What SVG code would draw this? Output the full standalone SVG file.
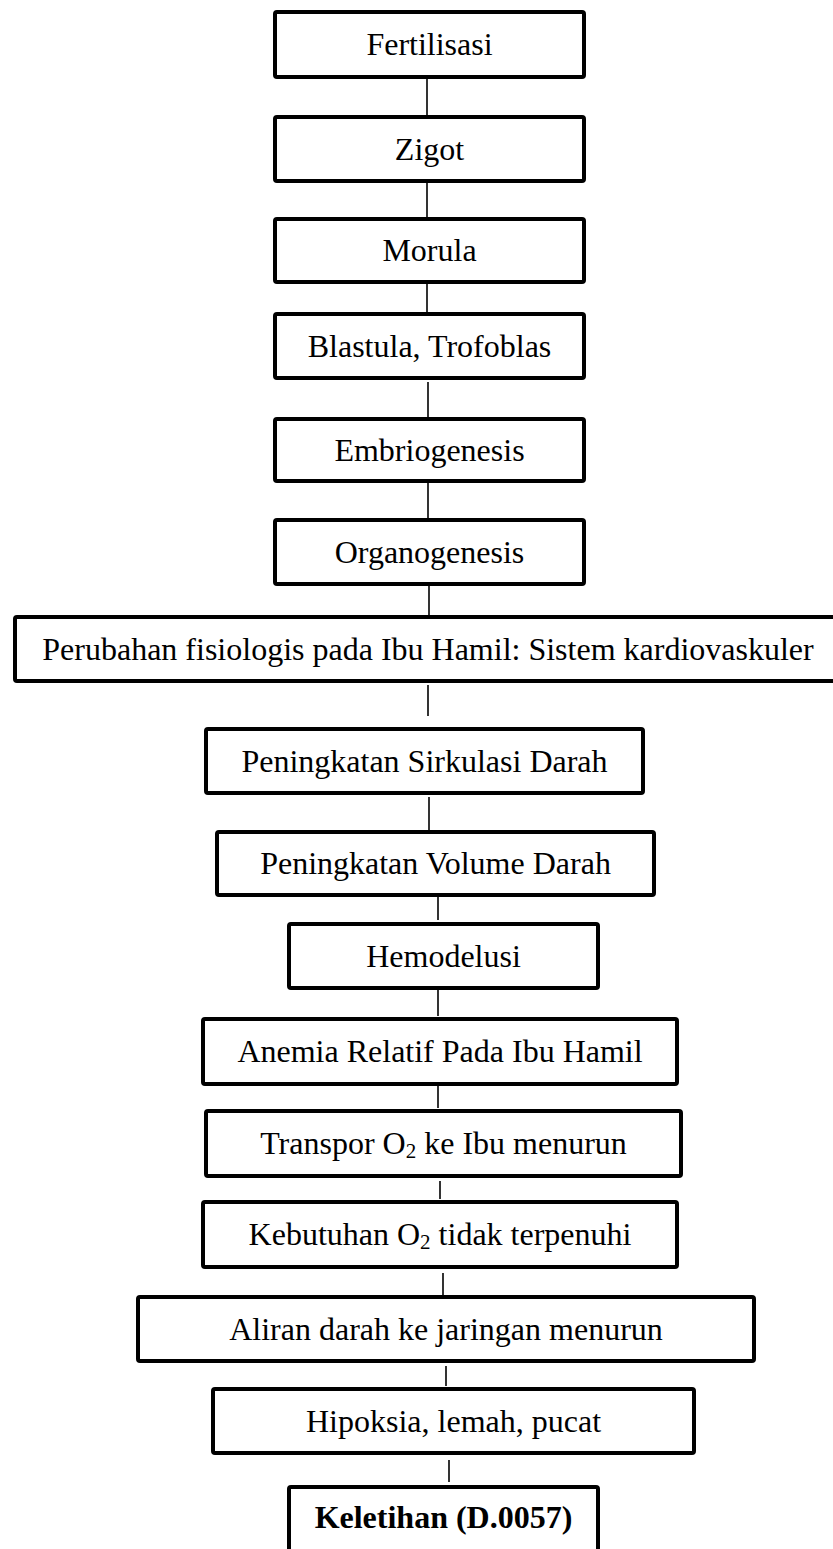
<svg xmlns="http://www.w3.org/2000/svg" width="833" height="1549" viewBox="0 0 833 1549">
<style>
.box{fill:#fff;stroke:#000;stroke-width:4;stroke-linejoin:round}
.t{font-family:"Liberation Serif","Times New Roman",serif;font-size:32px;fill:#000;text-anchor:middle}
.b{font-weight:bold}
.sub{font-size:21px}
.c line{stroke:#000;stroke-width:1.6}
</style>
<rect width="833" height="1549" fill="#fff"/>
<g class="c" id="connectors">
<line x1="427" y1="79" x2="427" y2="115"/>
<line x1="427" y1="183" x2="427" y2="217"/>
<line x1="427" y1="284" x2="427" y2="312"/>
<line x1="428" y1="382" x2="428" y2="417"/>
<line x1="428" y1="483" x2="428" y2="518"/>
<line x1="429" y1="586" x2="429" y2="615"/>
<line x1="428" y1="685" x2="428" y2="716"/>
<line x1="429" y1="797" x2="429" y2="850"/>
<line x1="438" y1="897" x2="438" y2="920"/>
<line x1="438" y1="990" x2="438" y2="1016"/>
<line x1="438" y1="1086" x2="438" y2="1108"/>
<line x1="440" y1="1181" x2="440" y2="1199"/>
<line x1="443" y1="1273" x2="443" y2="1295"/>
<line x1="446" y1="1366" x2="446" y2="1386"/>
<line x1="449" y1="1460" x2="449" y2="1482"/>
</g>
<g id="n1"><rect class="box" x="275" y="12" width="309" height="65" rx="2"/><text class="t" x="429.5" y="55">Fertilisasi</text></g>
<g id="n2"><rect class="box" x="275" y="117" width="309" height="64" rx="2"/><text class="t" x="429.5" y="159.5">Zigot</text></g>
<g id="n3"><rect class="box" x="275" y="219" width="309" height="63" rx="2"/><text class="t" x="429.5" y="261">Morula</text></g>
<g id="n4"><rect class="box" x="275" y="314" width="309" height="64" rx="2"/><text class="t" x="429.5" y="356.5">Blastula, Trofoblas</text></g>
<g id="n5"><rect class="box" x="275" y="419" width="309" height="62" rx="2"/><text class="t" x="429.5" y="460.5">Embriogenesis</text></g>
<g id="n6"><rect class="box" x="275" y="520" width="309" height="64" rx="2"/><text class="t" x="429.5" y="562.5">Organogenesis</text></g>
<g id="n7"><rect class="box" x="15" y="617" width="830" height="64" rx="2"/><text class="t" x="428" y="659.5">Perubahan fisiologis pada Ibu Hamil: Sistem kardiovaskuler</text></g>
<g id="n8"><rect class="box" x="206" y="729" width="437" height="64" rx="2"/><text class="t" x="424.5" y="771.5">Peningkatan Sirkulasi Darah</text></g>
<g id="n9"><rect class="box" x="217" y="832" width="437" height="63" rx="2"/><text class="t" x="435.5" y="874">Peningkatan Volume Darah</text></g>
<g id="n10"><rect class="box" x="289" y="924" width="309" height="64" rx="2"/><text class="t" x="443.5" y="966.5">Hemodelusi</text></g>
<g id="n11"><rect class="box" x="203" y="1019" width="474" height="65" rx="2"/><text class="t" x="440" y="1062">Anemia Relatif Pada Ibu Hamil</text></g>
<g id="n12"><rect class="box" x="206" y="1111" width="475" height="65" rx="2"/><text class="t" x="443.5" y="1154">Transpor O<tspan class="sub" dy="4">2</tspan><tspan dy="-4"> ke Ibu menurun</tspan></text></g>
<g id="n13"><rect class="box" x="203" y="1202" width="474" height="65" rx="2"/><text class="t" x="440" y="1245">Kebutuhan O<tspan class="sub" dy="4">2</tspan><tspan dy="-4"> tidak terpenuhi</tspan></text></g>
<g id="n14"><rect class="box" x="138" y="1297" width="616" height="64" rx="2"/><text class="t" x="446" y="1339.5">Aliran darah ke jaringan menurun</text></g>
<g id="n15"><rect class="box" x="213" y="1389" width="481" height="64" rx="2"/><text class="t" x="453.5" y="1431.5">Hipoksia, lemah, pucat</text></g>
<g id="n16"><rect class="box" x="289" y="1487" width="309" height="66" rx="2"/><text class="t b" x="443.5" y="1528">Keletihan (D.0057)</text></g>
</svg>
